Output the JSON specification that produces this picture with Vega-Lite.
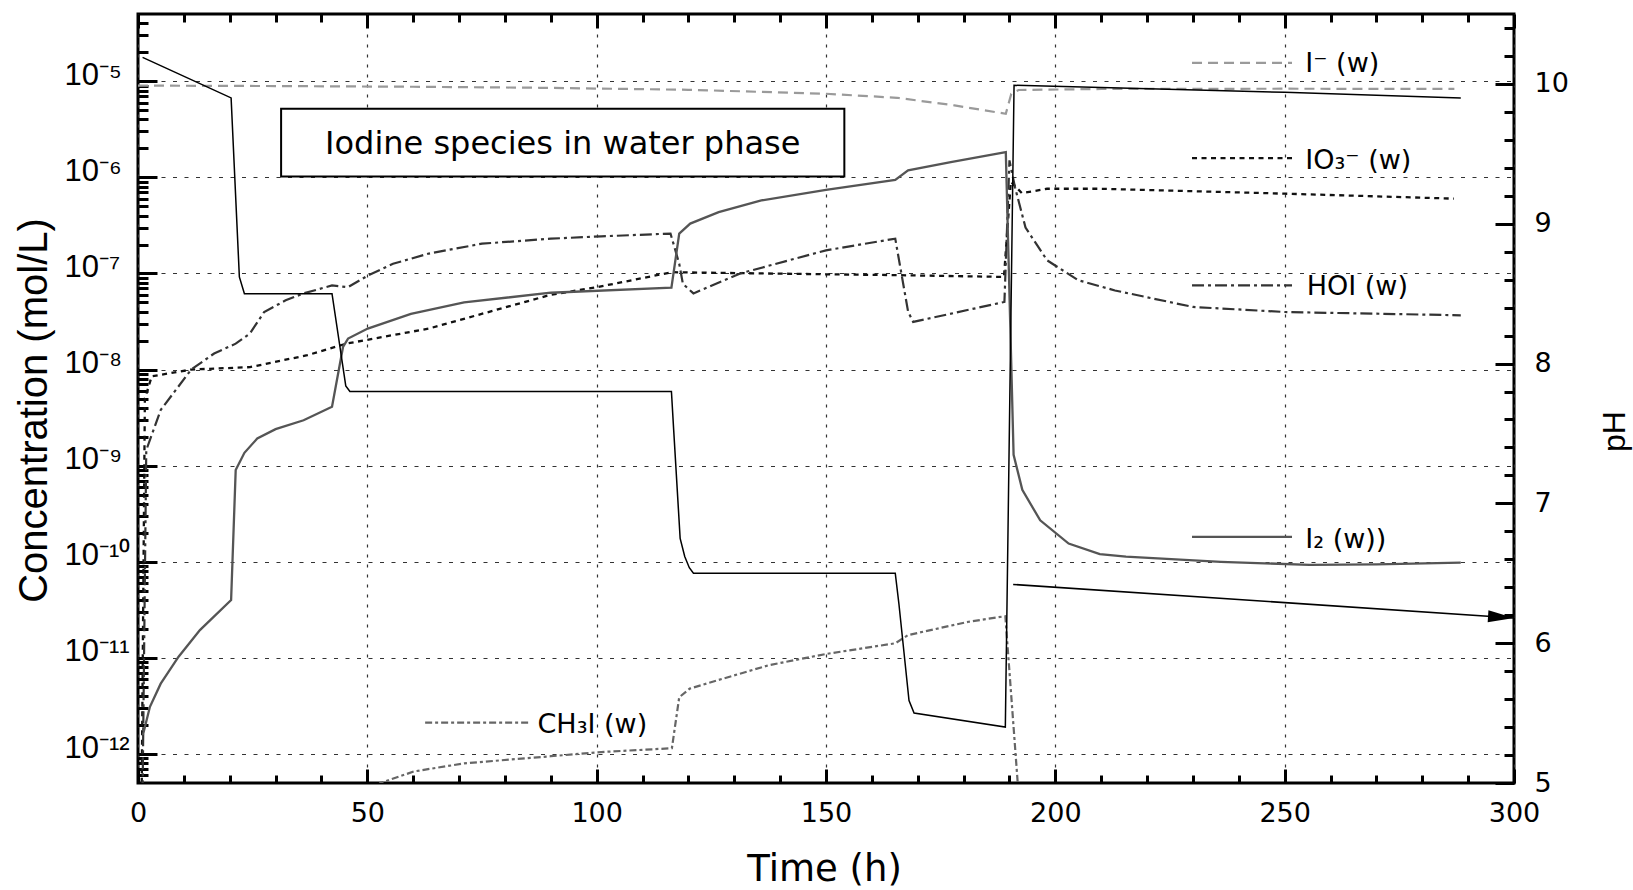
{
  "$schema": "https://vega.github.io/schema/vega-lite/v6.json",
  "width": 1376,
  "height": 769,
  "autosize": {"type": "none"},
  "padding": {"left": 138, "top": 14, "right": 119, "bottom": 107},
  "background": "white",
  "config": {
    "font": "Liberation Sans",
    "view": {"stroke": "black", "strokeWidth": 3},
    "axis": {"labelFont": "DejaVu Sans", "titleFont": "Liberation Sans", "labelColor": "#000", "titleColor": "#000", "titleFontWeight": "normal", "tickColor": "#000", "domain": false, "labelFlush": false, "labelOverlap": false}
  },
  "datasets": {
    "conc": [
      {"g":"Im","k":"d","t":0,"c":9.0e-6},{"g":"Im","k":"d","t":30,"c":8.9e-6},{"g":"Im","k":"d","t":60,"c":8.75e-6},{"g":"Im","k":"d","t":87.6,"c":8.54e-6},{"g":"Im","k":"d","t":120,"c":8.14e-6},{"g":"Im","k":"d","t":150,"c":7.4e-6},{"g":"Im","k":"d","t":165.5,"c":6.72e-6},{"g":"Im","k":"d","t":178,"c":5.6e-6},{"g":"Im","k":"d","t":189.2,"c":4.58e-6},{"g":"Im","k":"d","t":190.4,"c":7.4e-6},{"g":"Im","k":"d","t":192,"c":8.1e-6},{"g":"Im","k":"d","t":210,"c":8.3e-6},{"g":"Im","k":"d","t":250,"c":8.35e-6},{"g":"Im","k":"d","t":287,"c":8.3e-6},
      {"g":"Im","k":"l","t":229.8,"c":1.55e-5},{"g":"Im","k":"l","t":251.6,"c":1.55e-5},
      {"g":"IO3","k":"d","t":0.8,"c":4e-13},{"g":"IO3","k":"d","t":1.5,"c":5e-9},{"g":"IO3","k":"d","t":3,"c":8.5e-9},{"g":"IO3","k":"d","t":11.6,"c":1.0e-8},{"g":"IO3","k":"d","t":24.4,"c":1.06e-8},{"g":"IO3","k":"d","t":36.9,"c":1.41e-8},{"g":"IO3","k":"d","t":45.4,"c":1.86e-8},{"g":"IO3","k":"d","t":63.4,"c":2.67e-8},{"g":"IO3","k":"d","t":90,"c":6.0e-8},{"g":"IO3","k":"d","t":100.1,"c":7.2e-8},{"g":"IO3","k":"d","t":116.4,"c":1.03e-7},{"g":"IO3","k":"d","t":150,"c":9.8e-8},{"g":"IO3","k":"d","t":165.5,"c":9.6e-8},{"g":"IO3","k":"d","t":188.8,"c":9.2e-8},{"g":"IO3","k":"d","t":190.3,"c":9e-7},{"g":"IO3","k":"d","t":192.7,"c":6.85e-7},{"g":"IO3","k":"d","t":198.2,"c":7.6e-7},{"g":"IO3","k":"d","t":210,"c":7.6e-7},{"g":"IO3","k":"d","t":250,"c":6.76e-7},{"g":"IO3","k":"d","t":286.9,"c":6.0e-7},
      {"g":"IO3","k":"l","t":229.8,"c":1.58e-6},{"g":"IO3","k":"l","t":251.6,"c":1.58e-6},
      {"g":"HOI","k":"d","t":1.0,"c":4e-13},{"g":"HOI","k":"d","t":1.8,"c":1.45e-9},{"g":"HOI","k":"d","t":4.95,"c":3.8e-9},{"g":"HOI","k":"d","t":11.6,"c":1.0e-8},{"g":"HOI","k":"d","t":16.6,"c":1.47e-8},{"g":"HOI","k":"d","t":21.3,"c":1.86e-8},{"g":"HOI","k":"d","t":24.4,"c":2.37e-8},{"g":"HOI","k":"d","t":27.5,"c":3.97e-8},{"g":"HOI","k":"d","t":32.2,"c":5.25e-8},{"g":"HOI","k":"d","t":36.1,"c":6.2e-8},{"g":"HOI","k":"d","t":42.3,"c":7.5e-8},{"g":"HOI","k":"d","t":45.8,"c":7.2e-8},{"g":"HOI","k":"d","t":50.1,"c":9.5e-8},{"g":"HOI","k":"d","t":55.6,"c":1.26e-7},{"g":"HOI","k":"d","t":63.4,"c":1.61e-7},{"g":"HOI","k":"d","t":75,"c":2.04e-7},{"g":"HOI","k":"d","t":90,"c":2.3e-7},{"g":"HOI","k":"d","t":101,"c":2.43e-7},{"g":"HOI","k":"d","t":116.1,"c":2.6e-7},{"g":"HOI","k":"d","t":118,"c":1.26e-7},{"g":"HOI","k":"d","t":118.8,"c":7.8e-8},{"g":"HOI","k":"d","t":121.1,"c":6.2e-8},{"g":"HOI","k":"d","t":131.3,"c":1.0e-7},{"g":"HOI","k":"d","t":150,"c":1.74e-7},{"g":"HOI","k":"d","t":165.1,"c":2.3e-7},{"g":"HOI","k":"d","t":167.9,"c":4.0e-8},{"g":"HOI","k":"d","t":169,"c":3.13e-8},{"g":"HOI","k":"d","t":188.9,"c":5.05e-8},{"g":"HOI","k":"d","t":190,"c":1.5e-6},{"g":"HOI","k":"d","t":191.2,"c":7.9e-7},{"g":"HOI","k":"d","t":193.5,"c":3.0e-7},{"g":"HOI","k":"d","t":198.2,"c":1.37e-7},{"g":"HOI","k":"d","t":205,"c":8.5e-8},{"g":"HOI","k":"d","t":213,"c":6.65e-8},{"g":"HOI","k":"d","t":230,"c":4.48e-8},{"g":"HOI","k":"d","t":250,"c":3.97e-8},{"g":"HOI","k":"d","t":288.4,"c":3.67e-8},
      {"g":"HOI","k":"l","t":229.8,"c":7.5e-8},{"g":"HOI","k":"l","t":251.6,"c":7.5e-8},
      {"g":"I2","k":"d","t":1.07,"c":1.58e-12},{"g":"I2","k":"d","t":2.6,"c":3.1e-12},{"g":"I2","k":"d","t":4.95,"c":5.4e-12},{"g":"I2","k":"d","t":8.85,"c":1.03e-11},{"g":"I2","k":"d","t":13.5,"c":1.95e-11},{"g":"I2","k":"d","t":20.3,"c":4.0e-11},{"g":"I2","k":"d","t":21.3,"c":9.0e-10},{"g":"I2","k":"d","t":23.2,"c":1.36e-9},{"g":"I2","k":"d","t":26,"c":1.92e-9},{"g":"I2","k":"d","t":30,"c":2.4e-9},{"g":"I2","k":"d","t":36.1,"c":2.97e-9},{"g":"I2","k":"d","t":42.3,"c":4.1e-9},{"g":"I2","k":"d","t":44.7,"c":1.72e-8},{"g":"I2","k":"d","t":45.8,"c":2.1e-8},{"g":"I2","k":"d","t":50.1,"c":2.67e-8},{"g":"I2","k":"d","t":59.5,"c":3.8e-8},{"g":"I2","k":"d","t":71.1,"c":5.0e-8},{"g":"I2","k":"d","t":90,"c":6.3e-8},{"g":"I2","k":"d","t":116.3,"c":7.1e-8},{"g":"I2","k":"d","t":118,"c":2.6e-7},{"g":"I2","k":"d","t":120.4,"c":3.3e-7},{"g":"I2","k":"d","t":126.6,"c":4.35e-7},{"g":"I2","k":"d","t":135.9,"c":5.75e-7},{"g":"I2","k":"d","t":150,"c":7.4e-7},{"g":"I2","k":"d","t":165.1,"c":9.4e-7},{"g":"I2","k":"d","t":167.9,"c":1.18e-6},{"g":"I2","k":"d","t":177.2,"c":1.44e-6},{"g":"I2","k":"d","t":189.2,"c":1.83e-6},{"g":"I2","k":"d","t":190.9,"c":1.3e-9},{"g":"I2","k":"d","t":192.8,"c":5.6e-10},{"g":"I2","k":"d","t":196.7,"c":2.7e-10},{"g":"I2","k":"d","t":202.9,"c":1.55e-10},{"g":"I2","k":"d","t":209.7,"c":1.2e-10},{"g":"I2","k":"d","t":215.4,"c":1.13e-10},{"g":"I2","k":"d","t":236.1,"c":1.0e-10},{"g":"I2","k":"d","t":255.4,"c":9.3e-11},{"g":"I2","k":"d","t":270,"c":9.4e-11},{"g":"I2","k":"d","t":288.4,"c":9.8e-11},
      {"g":"I2","k":"l","t":229.8,"c":1.82e-10},{"g":"I2","k":"l","t":251.6,"c":1.82e-10},
      {"g":"CH3I","k":"d","t":50,"c":3.5e-13},{"g":"CH3I","k":"d","t":52.8,"c":5.0e-13},{"g":"CH3I","k":"d","t":60.2,"c":6.6e-13},{"g":"CH3I","k":"d","t":71.1,"c":8.0e-13},{"g":"CH3I","k":"d","t":90,"c":9.5e-13},{"g":"CH3I","k":"d","t":101,"c":1.05e-12},{"g":"CH3I","k":"d","t":116.4,"c":1.15e-12},{"g":"CH3I","k":"d","t":118,"c":3.9e-12},{"g":"CH3I","k":"d","t":120.3,"c":4.8e-12},{"g":"CH3I","k":"d","t":126.6,"c":5.9e-12},{"g":"CH3I","k":"d","t":137.5,"c":8.4e-12},{"g":"CH3I","k":"d","t":150,"c":1.1e-11},{"g":"CH3I","k":"d","t":165.1,"c":1.42e-11},{"g":"CH3I","k":"d","t":167.9,"c":1.73e-11},{"g":"CH3I","k":"d","t":181.1,"c":2.38e-11},{"g":"CH3I","k":"d","t":189.1,"c":2.72e-11},{"g":"CH3I","k":"d","t":191.8,"c":5e-13},{"g":"CH3I","k":"d","t":192.1,"c":3e-13},
      {"g":"CH3I","k":"l","t":62.6,"c":2.12e-12},{"g":"CH3I","k":"l","t":85.2,"c":2.12e-12}
    ],
    "ph": [
      {"t":1,"ph":10.19},{"t":20.3,"ph":9.90},{"t":22.1,"ph":8.62},{"t":23.2,"ph":8.50},{"t":42.3,"ph":8.50},{"t":45.3,"ph":7.84},{"t":46.2,"ph":7.80},{"t":116.3,"ph":7.80},{"t":116.8,"ph":7.52},{"t":118.2,"ph":6.75},{"t":119.2,"ph":6.62},{"t":120.2,"ph":6.54},{"t":121.1,"ph":6.50},{"t":165.1,"ph":6.50},{"t":165.9,"ph":6.28},{"t":168.1,"ph":5.59},{"t":169.2,"ph":5.50},{"t":189.1,"ph":5.40},{"t":191.0,"ph":9.99},{"t":250,"ph":9.94},{"t":288.4,"ph":9.90}
    ],
    "arrow": [{"t":190.8,"ph":6.42},{"t":300,"ph":6.18}],
    "arrowhead": [{"t":300,"ph":6.18}],
    "labels": [
      {"t":254.5,"c":1.24e-5,"label":"I⁻ (w)"},
      {"t":254.5,"c":1.23e-6,"label":"IO₃⁻ (w)"},
      {"t":254.8,"c":5.91e-8,"label":"HOI (w)"},
      {"t":254.5,"c":1.38e-10,"label":"I₂ (w))"},
      {"t":87.1,"c":1.64e-12,"label":"CH₃I (w)"}
    ],
    "box": [{"t1":31.2,"t2":154.0,"c1":5.16e-6,"c2":1.02e-6,"tm":92.6,"cm":1.73e-6,"label":"Iodine species in water phase"}]
  },
  "resolve": {"scale": {"y": "independent"}, "axis": {"x": "independent", "y": "independent"}},
  "layer": [
    {
      "data": {"name": "box"},
      "mark": {"type": "rect", "fill": "white", "stroke": "black", "strokeWidth": 2},
      "encoding": {
        "x": {"field": "t1", "type": "quantitative", "scale": {"domain": [0, 300], "nice": false, "zero": false}, "axis": null},
        "x2": {"field": "t2"},
        "y": {"field": "c1", "type": "quantitative", "scale": {"type": "log", "domain": [5e-13, 5e-5], "nice": false}, "axis": null},
        "y2": {"field": "c2"}
      }
    },
    {
      "data": {"name": "box"},
      "mark": {"type": "text", "font": "DejaVu Sans", "fontSize": 32, "align": "center", "baseline": "alphabetic", "color": "black"},
      "encoding": {
        "x": {"field": "tm", "type": "quantitative", "scale": {"domain": [0, 300], "nice": false, "zero": false}, "axis": null},
        "y": {"field": "cm", "type": "quantitative", "scale": {"type": "log", "domain": [5e-13, 5e-5], "nice": false}, "axis": null},
        "text": {"field": "label"}
      }
    },
    {
      "data": {"name": "conc"},
      "transform": [{"filter": "datum.g == 'Im'"}],
      "mark": {"type": "line", "color": "#9a9a9a", "strokeWidth": 2.2, "strokeDash": [10, 6], "clip": true},
      "encoding": {
        "detail": {"field": "k"},
        "x": {"field": "t", "type": "quantitative", "scale": {"domain": [0, 300], "nice": false, "zero": false},
          "axis": {"orient": "bottom", "values": [0, 50, 100, 150, 200, 250, 300], "labelFontSize": 27, "labelPadding": 31, "tickSize": -14, "tickWidth": 3, "grid": true, "gridDash": [3, 7], "gridColor": "#333", "gridWidth": 1.2, "title": "Time (h)", "titleFont": "DejaVu Sans", "titleFontSize": 37, "titleBaseline": "alphabetic", "titleX": 686, "titleY": 97, "titleAlign": "center"}},
        "y": {"field": "c", "type": "quantitative", "scale": {"type": "log", "domain": [5e-13, 5e-5], "nice": false},
          "axis": {"orient": "left", "values": [1e-12, 1e-11, 1e-10, 1e-9, 1e-8, 1e-7, 1e-6, 1e-5], "labelExpr": "'10' + ['⁻¹²','⁻¹¹','⁻¹⁰','⁻⁹','⁻⁸','⁻⁷','⁻⁶','⁻⁵'][round(log(datum.value)/LN10)+12]", "labelFont": "Liberation Sans", "labelFontSize": 31, "labelAlign": "left", "labelPadding": 93, "labelOffset": -6, "tickSize": -19, "tickWidth": 3, "grid": true, "gridDash": [4, 7.5], "gridColor": "#333", "gridWidth": 1.2, "title": "Concentration (mol/L)", "titleFontSize": 40, "titleAngle": -90, "titleBaseline": "alphabetic", "titleAlign": "center", "titleX": -92, "titleY": 396}}
      }
    },
    {
      "data": {"name": "conc"},
      "transform": [{"filter": "datum.g == 'IO3'"}],
      "mark": {"type": "line", "color": "#111", "strokeWidth": 2.3, "strokeDash": [5, 4.5], "clip": true},
      "encoding": {
        "detail": {"field": "k"},
        "x": {"field": "t", "type": "quantitative", "scale": {"domain": [0, 300], "nice": false, "zero": false},
          "axis": {"orient": "bottom", "values": [10,20,30,40,60,70,80,90,110,120,130,140,160,170,180,190,210,220,230,240,260,270,280,290], "labels": false, "tickSize": -8, "tickWidth": 3, "grid": false, "title": null}},
        "y": {"field": "c", "type": "quantitative", "scale": {"type": "log", "domain": [5e-13, 5e-5], "nice": false},
          "axis": {"orient": "left", "values": [6e-13,7e-13,8e-13,9e-13,2e-12,3e-12,4e-12,5e-12,6e-12,7e-12,8e-12,9e-12,2e-11,3e-11,4e-11,5e-11,6e-11,7e-11,8e-11,9e-11,2e-10,3e-10,4e-10,5e-10,6e-10,7e-10,8e-10,9e-10,2e-9,3e-9,4e-9,5e-9,6e-9,7e-9,8e-9,9e-9,2e-8,3e-8,4e-8,5e-8,6e-8,7e-8,8e-8,9e-8,2e-7,3e-7,4e-7,5e-7,6e-7,7e-7,8e-7,9e-7,2e-6,3e-6,4e-6,5e-6,6e-6,7e-6,8e-6,9e-6,2e-5,3e-5,4e-5], "labels": false, "tickSize": -10, "tickWidth": 3, "grid": false, "title": null}}
      }
    },
    {
      "data": {"name": "conc"},
      "transform": [{"filter": "datum.g == 'HOI'"}],
      "mark": {"type": "line", "color": "#333", "strokeWidth": 2.2, "strokeDash": [12, 4, 3, 4], "clip": true},
      "encoding": {
        "detail": {"field": "k"},
        "x": {"field": "t", "type": "quantitative", "scale": {"domain": [0, 300], "nice": false, "zero": false},
          "axis": {"orient": "top", "values": [0, 50, 100, 150, 200, 250, 300], "labels": false, "tickSize": -14, "tickWidth": 3, "grid": false, "title": null}},
        "y": {"field": "c", "type": "quantitative", "scale": {"type": "log", "domain": [5e-13, 5e-5], "nice": false}, "axis": null}
      }
    },
    {
      "data": {"name": "conc"},
      "transform": [{"filter": "datum.g == 'I2'"}],
      "mark": {"type": "line", "color": "#555", "strokeWidth": 2.3, "clip": true},
      "encoding": {
        "detail": {"field": "k"},
        "x": {"field": "t", "type": "quantitative", "scale": {"domain": [0, 300], "nice": false, "zero": false},
          "axis": {"orient": "top", "values": [10,20,30,40,60,70,80,90,110,120,130,140,160,170,180,190,210,220,230,240,260,270,280,290], "labels": false, "tickSize": -8, "tickWidth": 3, "grid": false, "title": null}},
        "y": {"field": "c", "type": "quantitative", "scale": {"type": "log", "domain": [5e-13, 5e-5], "nice": false}, "axis": null}
      }
    },
    {
      "data": {"name": "conc"},
      "transform": [{"filter": "datum.g == 'CH3I'"}],
      "mark": {"type": "line", "color": "#666", "strokeWidth": 2.2, "strokeDash": [7, 3, 3, 3], "clip": true},
      "encoding": {
        "detail": {"field": "k"},
        "x": {"field": "t", "type": "quantitative", "scale": {"domain": [0, 300], "nice": false, "zero": false}, "axis": null},
        "y": {"field": "c", "type": "quantitative", "scale": {"type": "log", "domain": [5e-13, 5e-5], "nice": false}, "axis": null}
      }
    },
    {
      "data": {"name": "labels"},
      "mark": {"type": "text", "font": "DejaVu Sans", "fontSize": 27, "align": "left", "baseline": "alphabetic", "color": "black"},
      "encoding": {
        "x": {"field": "t", "type": "quantitative", "scale": {"domain": [0, 300], "nice": false, "zero": false}, "axis": null},
        "y": {"field": "c", "type": "quantitative", "scale": {"type": "log", "domain": [5e-13, 5e-5], "nice": false}, "axis": null},
        "text": {"field": "label"}
      }
    },
    {
      "data": {"name": "ph"},
      "mark": {"type": "line", "color": "black", "strokeWidth": 1.5, "clip": true},
      "encoding": {
        "x": {"field": "t", "type": "quantitative", "scale": {"domain": [0, 300], "nice": false, "zero": false}, "axis": null},
        "y": {"field": "ph", "type": "quantitative", "scale": {"domain": [5, 10.5], "nice": false, "zero": false},
          "axis": {"orient": "right", "values": [5, 6, 7, 8, 9, 10], "labelFontSize": 27, "labelPadding": 39, "tickSize": -19, "tickWidth": 3, "grid": false, "title": "pH", "titleFontSize": 32, "titleAngle": -90, "titleBaseline": "alphabetic", "titleAlign": "center", "titleX": 110, "titleY": 417}}
      }
    },
    {
      "data": {"name": "arrow"},
      "mark": {"type": "line", "color": "black", "strokeWidth": 1.6},
      "encoding": {
        "x": {"field": "t", "type": "quantitative", "scale": {"domain": [0, 300], "nice": false, "zero": false}, "axis": null},
        "y": {"field": "ph", "type": "quantitative", "scale": {"domain": [5, 10.5], "nice": false, "zero": false},
          "axis": {"orient": "right", "values": [5.2,5.4,5.6,5.8,6.2,6.4,6.6,6.8,7.2,7.4,7.6,7.8,8.2,8.4,8.6,8.8,9.2,9.4,9.6,9.8,10.2,10.4], "labels": false, "tickSize": -10, "tickWidth": 3, "grid": false, "title": null}}
      }
    },
    {
      "data": {"name": "arrowhead"},
      "mark": {"type": "point", "shape": "M 0 0 L -2 -0.46 L -2 0.46 Z", "filled": true, "color": "black", "opacity": 1, "size": 676, "angle": 3.8},
      "encoding": {
        "x": {"field": "t", "type": "quantitative", "scale": {"domain": [0, 300], "nice": false, "zero": false}, "axis": null},
        "y": {"field": "ph", "type": "quantitative", "scale": {"domain": [5, 10.5], "nice": false, "zero": false}, "axis": null}
      }
    }
  ]
}
